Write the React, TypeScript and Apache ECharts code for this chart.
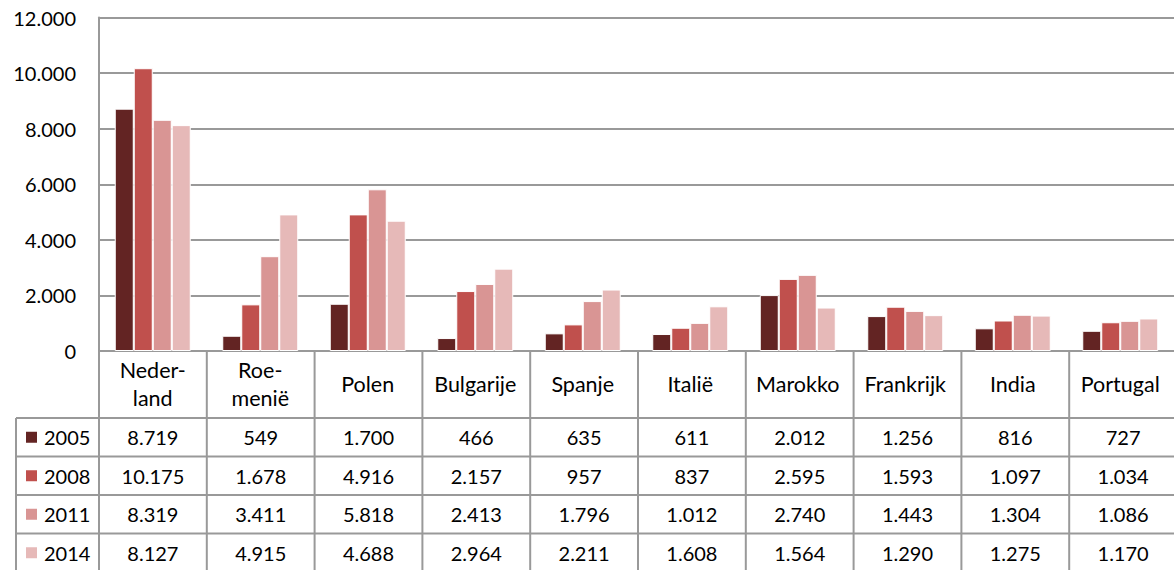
import React, { useEffect, useRef } from "react";
import * as echarts from "echarts";

const categories = ["Neder-\nland", "Roe-\nmenië", "Polen", "Bulgarije", "Spanje", "Italië", "Marokko", "Frankrijk", "India", "Portugal"];
const years = ["2005", "2008", "2011", "2014"];
const v2005 = [8719, 549, 1700, 466, 635, 611, 2012, 1256, 816, 727];
const v2008 = [10175, 1678, 4916, 2157, 957, 837, 2595, 1593, 1097, 1034];
const v2011 = [8319, 3411, 5818, 2413, 1796, 1012, 2740, 1443, 1304, 1086];
const v2014 = [8127, 4915, 4688, 2964, 2211, 1608, 1564, 1290, 1275, 1170];
const seriesValues = [v2005, v2008, v2011, v2014];
const colors = ["#632423", "#C0504D", "#D99594", "#E6B9B8"];
const yMax = 12000;
const yInterval = 2000;

const fmt = (n: number) => String(n).replace(/\B(?=(\d{3})+(?!\d))/g, ".");

const FONT = "Lato";
const FS = 20;
const FS_LABEL = 21.5;
const GRID_LEFT = 99;
const CAT_W = 107.8;
const TOP = 17.5;
const AXIS_Y = 351;
const HEADER_BOTTOM = 418;
const ROW_H = 38.5;
const TABLE_LEFT = 16;
const W = 1174;
const H = 570;
const LINE = "#999999";

export default function App() {
  const ref = useRef<HTMLDivElement>(null);
  useEffect(() => {
    document.body.style.margin = "0";
    const chart = echarts.init(ref.current!, undefined, { renderer: "svg" });
    const graphic: any[] = [];
    const lineStyle = { stroke: LINE, lineWidth: 2 };
    for (let i = 0; i <= categories.length; i++) {
      const x = GRID_LEFT + i * CAT_W;
      graphic.push({ type: "line", shape: { x1: x, y1: AXIS_Y, x2: x, y2: H + 5 }, style: lineStyle, z: 5 });
    }
    graphic.push({ type: "line", shape: { x1: TABLE_LEFT, y1: HEADER_BOTTOM, x2: TABLE_LEFT, y2: H + 5 }, style: lineStyle, z: 5 });
    for (let k = 0; k <= years.length; k++) {
      const y = HEADER_BOTTOM + k * ROW_H;
      graphic.push({ type: "line", shape: { x1: TABLE_LEFT, y1: y, x2: W + 5, y2: y }, style: lineStyle, z: 5 });
    }
    years.forEach((yr, k) => {
      const cy = HEADER_BOTTOM + k * ROW_H + ROW_H / 2;
      graphic.push({ type: "rect", shape: { x: 26, y: cy - 5.5, width: 11, height: 11 }, style: { fill: colors[k] }, z: 6 });
      graphic.push({
        type: "text", x: 44, y: cy,
        style: { text: yr, font: `${FS}px ${FONT}`, fill: "#000", textAlign: "left", textVerticalAlign: "middle" }, z: 6,
      });
      seriesValues[k].forEach((v, i) => {
        graphic.push({
          type: "text", x: GRID_LEFT + i * CAT_W + CAT_W / 2, y: cy,
          style: { text: fmt(v), font: `${FS}px ${FONT}`, fill: "#000", textAlign: "center", textVerticalAlign: "middle" }, z: 6,
        });
      });
    });

    chart.setOption({
      animation: false,
      grid: { left: GRID_LEFT, top: TOP, width: CAT_W * categories.length, height: AXIS_Y - TOP },
      xAxis: {
        type: "category",
        data: categories,
        axisLine: { show: true, lineStyle: { color: LINE, width: 2 } },
        axisTick: { show: false },
        axisLabel: {
          interval: 0, margin: 33, verticalAlign: "middle", lineHeight: 28,
          fontFamily: FONT, fontSize: FS_LABEL, color: "#000",
        },
      },
      yAxis: {
        type: "value", min: 0, max: yMax, interval: yInterval,
        axisLine: { show: true, lineStyle: { color: LINE, width: 2 } },
        axisTick: { show: false },
        splitLine: { lineStyle: { color: LINE, width: 2 } },
        axisLabel: { margin: 23, fontFamily: FONT, fontSize: FS, color: "#000", formatter: (v: number) => fmt(v) },
      },
      series: years.map((yr, k) => ({
        name: yr, type: "bar", data: seriesValues[k],
        barWidth: 19, barGap: "0%",
        itemStyle: { color: colors[k], borderColor: "#fff", borderWidth: 1 },
      })),
      graphic,
    });
    return () => chart.dispose();
  }, []);
  return <div ref={ref} style={{ position: "absolute", left: 0, top: 0, width: W, height: H }} />;
}
